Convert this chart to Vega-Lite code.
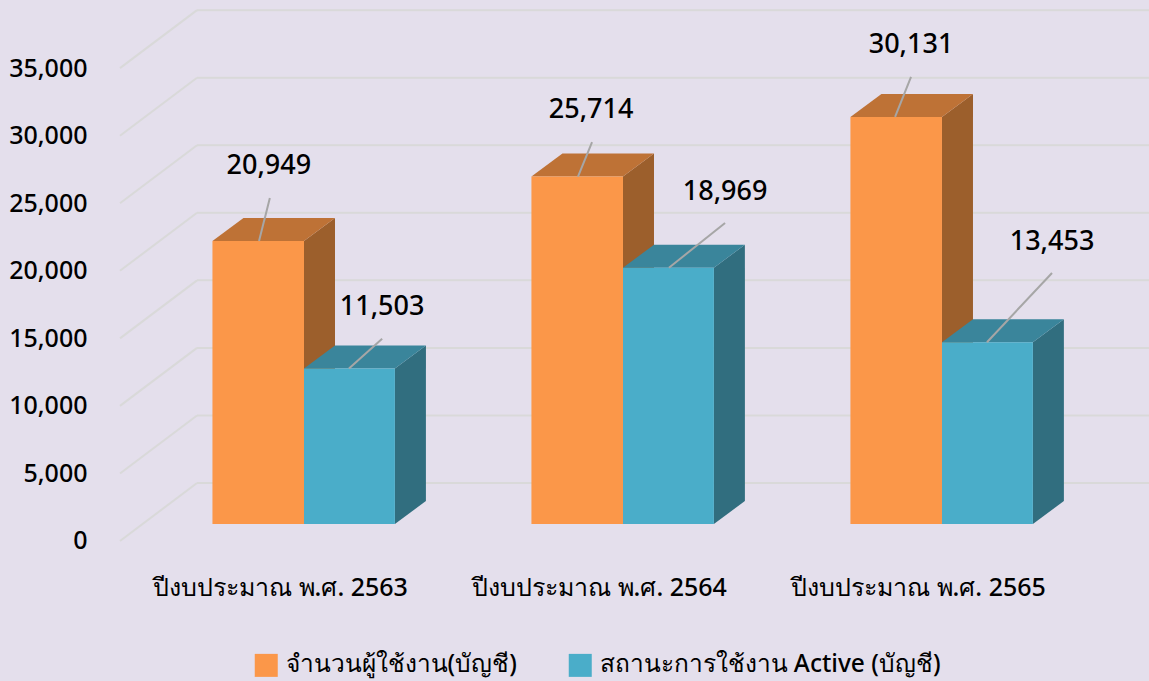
{"$schema":"https://vega.github.io/schema/vega-lite/v6.json","autosize":{"type":"none","contains":"padding"},"padding":0,"width":1149,"height":681,"background":"#E4DFEC","view":{"stroke":null},
"config":{"font":"Noto Sans","axis":{"labelColor":"#000000"}},
"datasets":{"bars":[
{"i":0,"series":"จำนวนผู้ใช้งาน(บัญชี)","value":20949},
{"i":0,"series":"สถานะการใช้งาน Active (บัญชี)","value":11503},
{"i":1,"series":"จำนวนผู้ใช้งาน(บัญชี)","value":25714},
{"i":1,"series":"สถานะการใช้งาน Active (บัญชี)","value":18969},
{"i":2,"series":"จำนวนผู้ใช้งาน(บัญชี)","value":30131},
{"i":2,"series":"สถานะการใช้งาน Active (บัญชี)","value":13453}],
"ticks":[{"tick":0},{"tick":5000},{"tick":10000},{"tick":15000},{"tick":20000},{"tick":25000},{"tick":30000},{"tick":35000}],
"callouts":[
{"label":"20,949","fromX":-0.141,"fromY":20949,"toX":-0.107,"toY":24130,"textX":-0.110,"textY":26500},
{"label":"11,503","fromX":0.141,"fromY":11503,"toX":0.245,"toY":13720,"textX":0.245,"textY":16030},
{"label":"25,714","fromX":0.859,"fromY":25714,"toX":0.903,"toY":28270,"textX":0.900,"textY":30650},
{"label":"18,969","fromX":1.144,"fromY":18969,"toX":1.320,"toY":22280,"textX":1.320,"textY":24580},
{"label":"30,131","fromX":1.853,"fromY":30131,"toX":1.903,"toY":33090,"textX":1.903,"textY":35460},
{"label":"13,453","fromX":2.141,"fromY":13453,"toX":2.345,"toY":18580,"textX":2.345,"textY":20880}]},
"layer":[
{"data":{"name":"ticks"},"mark":{"type":"rule","color":"#D9D9D9","strokeWidth":2},
"transform":[{"calculate":"datum.tick+3035","as":"back"}],
"encoding":{"x":{"datum":-0.3354,"type":"quantitative","scale":{"domain":[-0.953,2.649],"nice":false,"zero":false},"axis":{"values":[0,1,2],"labelExpr":"'ปีงบประมาณ พ.ศ. '+(2563+datum.value)","orient":"bottom","offset":-94,"labelOffset":-24,"labelFontSize":25,"labelFontWeight":500,"labelPadding":0,"labelLimit":400,"ticks":false,"domain":false,"grid":false,"title":null,"labelBound":false,"labelFlush":false,"labelOverlap":false,"labelBaseline":"middle"}},"x2":{"datum":2.649},
"y":{"field":"back","type":"quantitative","scale":{"domain":[-11621,38786],"nice":false,"zero":false},"axis":{"values":[0,5000,10000,15000,20000,25000,30000,35000],"labelExpr":"format(datum.value,',')","orient":"left","offset":-87,"labelOffset":17,"labelFontSize":25,"labelFontWeight":500,"labelPadding":0,"ticks":false,"domain":false,"grid":false,"title":null,"labelBound":false,"labelFlush":false,"labelOverlap":false}},"y2":{"field":"back"}}},
{"data":{"name":"ticks"},"mark":{"type":"rule","color":"#D9D9D9","strokeWidth":2},
"transform":[{"calculate":"datum.tick+3035","as":"back"},{"calculate":"datum.tick-1258","as":"front"}],
"encoding":{"x":{"datum":-0.5768,"type":"quantitative"},"x2":{"datum":-0.3354},"y":{"field":"front","type":"quantitative"},"y2":{"field":"back"}}},
{"data":{"name":"bars"},"mark":{"type":"area","stroke":null,"interpolate":"linear","orient":"vertical"},
"transform":[{"calculate":"[0,1]","as":"t"},{"flatten":["t"]},
{"calculate":"datum.i+(indexof(['จำนวนผู้ใช้งาน(บัญชี)'],datum.series)==0?0:0.285)+datum.t*0.0972","as":"px"},
{"calculate":"datum.value+datum.t*1702","as":"top"},{"calculate":"datum.t*1702","as":"bottom"}],
"encoding":{"x":{"field":"px","type":"quantitative"},"y":{"field":"top","type":"quantitative"},"y2":{"field":"bottom"},"detail":{"field":"i"},
"color":{"field":"series","type":"nominal","legend":null,"scale":{"domain":["จำนวนผู้ใช้งาน(บัญชี)","สถานะการใช้งาน Active (บัญชี)"],"range":["#9C5F2C","#316E7F"]}}}},
{"data":{"name":"bars"},"mark":{"type":"area","stroke":null,"interpolate":"linear","orient":"vertical"},
"transform":[{"calculate":"[0,1,2,3]","as":"t"},{"flatten":["t"]},
{"calculate":"datum.i+(indexof(['จำนวนผู้ใช้งาน(บัญชี)'],datum.series)==0?-0.287:0)","as":"x0"},
{"calculate":"datum.x0+[0,0.0972,indexof(['จำนวนผู้ใช้งาน(บัญชี)'],datum.series)==0?0.287:0.285,indexof(['จำนวนผู้ใช้งาน(บัญชี)'],datum.series)==0?0.3842:0.3822][datum.t]","as":"px"},
{"calculate":"datum.value+[0,1702,1702,1702][datum.t]","as":"top"},{"calculate":"datum.value+[0,0,0,1702][datum.t]","as":"bottom"}],
"encoding":{"x":{"field":"px","type":"quantitative"},"y":{"field":"top","type":"quantitative"},"y2":{"field":"bottom"},"detail":{"field":"i"},
"color":{"field":"series","type":"nominal","legend":null,"scale":{"domain":["จำนวนผู้ใช้งาน(บัญชี)","สถานะการใช้งาน Active (บัญชี)"],"range":["#BE7236","#3A859B"]}}}},
{"data":{"name":"bars"},"mark":{"type":"rect"},
"transform":[{"calculate":"datum.i+(indexof(['จำนวนผู้ใช้งาน(บัญชี)'],datum.series)==0?-0.287:0)","as":"x0"},{"calculate":"datum.i+(indexof(['จำนวนผู้ใช้งาน(บัญชี)'],datum.series)==0?0:0.285)","as":"x1"}],
"encoding":{"x":{"field":"x0","type":"quantitative"},"x2":{"field":"x1"},"y":{"field":"value","type":"quantitative"},"y2":{"datum":0},
"color":{"field":"series","type":"nominal","sort":null,"scale":{"domain":["จำนวนผู้ใช้งาน(บัญชี)","สถานะการใช้งาน Active (บัญชี)"],"range":["#FB9749","#4AADC9"]},
"legend":{"title":null,"orient":"none","legendX":254,"legendY":653,"direction":"horizontal","symbolType":"square","symbolSize":529,"symbolStrokeWidth":0,"labelFontSize":24.5,"labelFontWeight":500,"labelColor":"#000000","columnPadding":51,"labelOffset":7,"labelLimit":500}}}},
{"data":{"name":"callouts"},"mark":{"type":"rule","color":"#A6A6A6","strokeWidth":2},
"encoding":{"x":{"field":"fromX","type":"quantitative"},"x2":{"field":"toX"},"y":{"field":"fromY","type":"quantitative"},"y2":{"field":"toY"}}},
{"data":{"name":"callouts"},"mark":{"type":"text","fontSize":27,"fontWeight":500,"color":"#000000","align":"center","baseline":"middle"},
"encoding":{"x":{"field":"textX","type":"quantitative"},"y":{"field":"textY","type":"quantitative"},"text":{"field":"label"}}}
],
"resolve":{"scale":{"color":"independent"}}}
